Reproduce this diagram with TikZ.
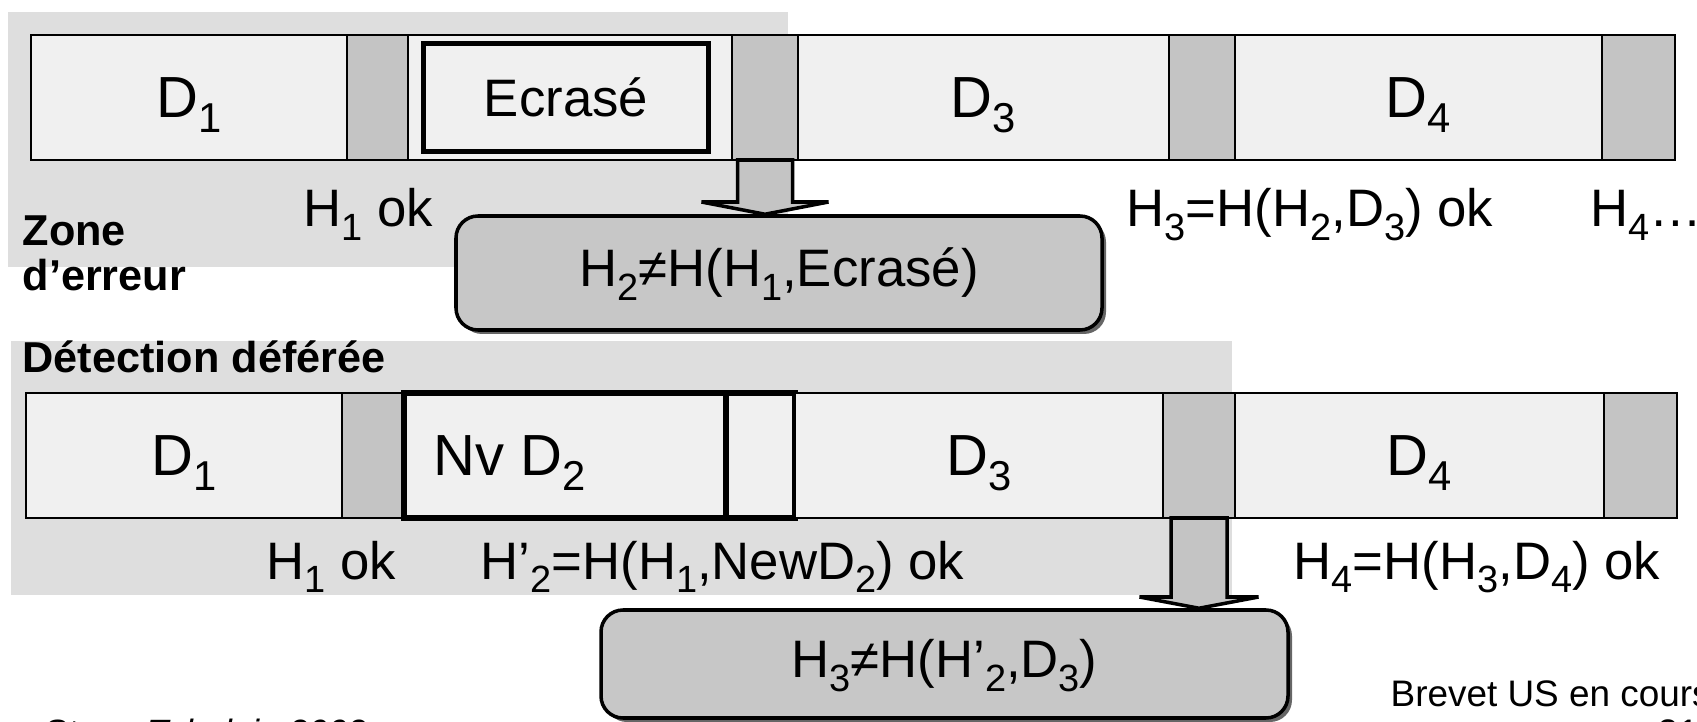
\documentclass[tikz,border=0pt]{standalone}
\usepackage{fontspec}
\setmainfont{Liberation Sans}
\usetikzlibrary{positioning,calc,shadows}
\newcommand{\lo}[1]{\raisebox{-0.26em}[0pt][0pt]{\scalebox{0.72}{#1}}}
\tikzset{
  zone/.style={fill=black!13,draw=none},
  blk/.style={draw,line width=0.8pt,fill=black!6,minimum height=1.25cm,inner sep=0pt,outer sep=0pt,font=\fontsize{16.5}{20}\selectfont},
  hsh/.style={blk,fill=black!23},
  heavy/.style={line width=1.6pt},
  res/.style={draw,line width=1pt,rounded corners=0.22cm,fill=black!22,font=\fontsize{15}{18}\selectfont,
    drop shadow={shadow xshift=0.04cm,shadow yshift=-0.04cm,fill=black!60,opacity=1}},
  fat/.style={draw,line width=1pt,fill=black!23,line join=miter},
  lbl/.style={anchor=base west,inner sep=0pt,font=\fontsize{15}{18}\selectfont},
  ttl/.style={anchor=base west,inner sep=0pt,font=\bfseries\fontsize{12.3}{15}\selectfont},
  foot/.style={anchor=base west,inner sep=0pt,font=\fontsize{10.5}{13}\selectfont}
}
\begin{document}
\begin{tikzpicture}[node distance=0pt]
\useasboundingbox (0,0) rectangle (16.97,-7.22);
% shaded zones
\fill[zone] (0.08,-0.12) rectangle (7.88,-2.67);
\fill[zone] (0.11,-3.41) rectangle (12.32,-5.95);
% first chain, block 2 overwritten
\node[blk,minimum width=3.16cm,anchor=west](ad1) at (0.31,-0.975){D\lo{1}};
\node[hsh,minimum width=0.61cm,right=of ad1](ah1){};
\node[blk,minimum width=3.24cm,right=of ah1](ad2){};
\node[hsh,minimum width=0.66cm,right=of ad2](ah2){};
\node[blk,minimum width=3.71cm,right=of ah2](ad3){D\lo{3}};
\node[hsh,minimum width=0.66cm,right=of ad3](ah3){};
\node[blk,minimum width=3.67cm,right=of ah3](ad4){D\lo{4}};
\node[hsh,minimum width=0.73cm,right=of ad4](ah4){};
\node[blk,heavy,minimum width=2.85cm,minimum height=1.08cm,font=\fontsize{15}{18}\selectfont](ecr) at ($(ad2.center)+(-0.04,0)$){Ecrasé};
% second chain, block 2 replaced
\node[blk,minimum width=3.16cm,anchor=west](bd1) at (0.26,-4.555){D\lo{1}};
\node[hsh,minimum width=0.62cm,right=of bd1](bh1){};
\node[blk,heavy,minimum width=3.22cm,right=of bh1](bd2){};
\node[blk,heavy,minimum width=0.69cm,right=of bd2](bh2){};
\node[blk,minimum width=3.68cm,right=of bh2](bd3){D\lo{3}};
\node[hsh,minimum width=0.72cm,right=of bd3](bh3){};
\node[blk,minimum width=3.69cm,right=of bh3](bd4){D\lo{4}};
\node[hsh,minimum width=0.73cm,right=of bd4](bh4){};
\node[anchor=west,inner sep=0pt,font=\fontsize{16.5}{20}\selectfont](nv) at ($(bd2.west)+(0.29,0)$){Nv D\lo{2}};
% check results
\node[res,minimum width=6.46cm,minimum height=1.14cm](ra) at (7.79,-2.73){H\lo{2}≠H(H\lo{1},Ecrasé)};
\node[res,minimum width=6.87cm,minimum height=1.08cm](rb) at (9.445,-6.64){H\lo{3}≠H(H’\lo{2},D\lo{3})};
\draw[fat] ($(ah2.south)+(-0.275,0)$) -- ++(0,-0.42) -- ++(-0.36,0) -- (ah2.south |- ra.north)
  -- ($(ah2.south)+(0.635,-0.42)$) -- ++(-0.36,0) -- ($(ah2.south)+(0.275,0)$) -- cycle;
\draw[fat] ($(bh3.south)+(-0.28,0)$) -- ++(0,-0.79) -- ++(-0.315,0) -- (bh3.south |- rb.north)
  -- ($(bh3.south)+(0.595,-0.79)$) -- ++(-0.315,0) -- ($(bh3.south)+(0.28,0)$) -- cycle;
% hash labels
\node[lbl](ok1) at (3.03,-2.27){H\lo{1} ok};
\node[lbl](ok3) at (11.26,-2.27){H\lo{3}=H(H\lo{2},D\lo{3}) ok};
\node[lbl](nx4) at (15.90,-2.27){H\lo{4}…};
\node[ttl](zone) at (0.22,-2.46){Zone};
\node[ttl](err) at (0.22,-2.91){d’erreur};
\node[ttl](det) at (0.22,-3.72){Détection déférée};
\node[lbl](ok1b) at (2.66,-5.79){H\lo{1} ok};
\node[lbl](ok2b) at (4.80,-5.79){H’\lo{2}=H(H\lo{1},NewD\lo{2}) ok};
\node[lbl](ok4b) at (12.93,-5.79){H\lo{4}=H(H\lo{3},D\lo{4}) ok};
% footer
\node[foot](brev) at (13.90,-7.06){Brevet US en cours};
\node[foot](page) at (16.57,-7.45){21};
\node[foot,font=\itshape\fontsize{10}{12}\selectfont](src) at (0.43,-7.44){Stern, Tabulain 2002};
\end{tikzpicture}
\end{document}
